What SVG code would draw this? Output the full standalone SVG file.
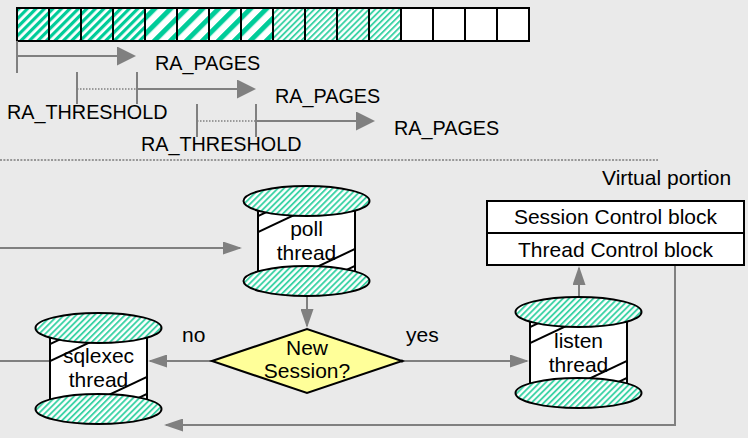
<svg xmlns="http://www.w3.org/2000/svg" width="748" height="438" viewBox="0 0 748 438">
<style>
.t{font-family:"Liberation Sans",Arial,sans-serif;font-size:21px;fill:#000}
.ra{font-size:19.8px}
.m{text-anchor:middle}
.g{stroke:#808080;stroke-width:2;fill:none}
.dot{stroke:#808080;stroke-width:1.5;stroke-dasharray:1.5 1.5;fill:none}
.cell{stroke:#000;stroke-width:2}
.k{stroke:#000;stroke-width:2}
.body{fill:#fff;stroke:#000;stroke-width:2}
.disk{fill:url(#p3);stroke:#000;stroke-width:2}
</style>
<defs>
<pattern id="p1" patternUnits="userSpaceOnUse" width="6" height="6" patternTransform="rotate(45)"><rect width="6" height="6" fill="#fff"/><rect width="3.2" height="6" fill="#00cc99"/></pattern>
<pattern id="p2" patternUnits="userSpaceOnUse" width="11.3" height="11.3" patternTransform="rotate(45)"><rect width="11.3" height="11.3" fill="#fff"/><rect width="5" height="11.3" fill="#00cc99"/></pattern>
<pattern id="p3" patternUnits="userSpaceOnUse" width="4.3" height="4.3" patternTransform="rotate(45)"><rect width="4.3" height="4.3" fill="#fff"/><rect width="1.9" height="4.3" fill="#3dd3a6"/></pattern>
<marker id="ra" markerUnits="userSpaceOnUse" markerWidth="19" markerHeight="19" refX="17" refY="9.5" orient="auto" viewBox="0 0 19 19"><path d="M0,0 L19,9.5 L0,19 z" fill="#808080"/></marker>
<marker id="ar" markerUnits="userSpaceOnUse" markerWidth="19" markerHeight="13" refX="17" refY="6.5" orient="auto" viewBox="0 0 19 13"><path d="M0,0 L19,6.5 L0,13 z" fill="#808080"/></marker>
<clipPath id="bodyclip"><rect x="-48.5" y="0" width="97" height="80"/></clipPath>
</defs>
<rect width="748" height="438" fill="#eaeaea"/>

<g id="pages">
<rect class="cell" x="17" y="8" width="32" height="33" fill="url(#p1)"/>
<rect class="cell" x="49" y="8" width="32" height="33" fill="url(#p1)"/>
<rect class="cell" x="81" y="8" width="32" height="33" fill="url(#p1)"/>
<rect class="cell" x="113" y="8" width="32" height="33" fill="url(#p1)"/>
<rect class="cell" x="145" y="8" width="32" height="33" fill="url(#p2)"/>
<rect class="cell" x="177" y="8" width="32" height="33" fill="url(#p2)"/>
<rect class="cell" x="209" y="8" width="32" height="33" fill="url(#p2)"/>
<rect class="cell" x="241" y="8" width="32" height="33" fill="url(#p2)"/>
<rect class="cell" x="273" y="8" width="32" height="33" fill="url(#p3)"/>
<rect class="cell" x="305" y="8" width="32" height="33" fill="url(#p3)"/>
<rect class="cell" x="337" y="8" width="32" height="33" fill="url(#p3)"/>
<rect class="cell" x="369" y="8" width="32" height="33" fill="url(#p3)"/>
<rect class="cell" x="401" y="8" width="32" height="33" fill="#fff"/>
<rect class="cell" x="433" y="8" width="32" height="33" fill="#fff"/>
<rect class="cell" x="465" y="8" width="32" height="33" fill="#fff"/>
<rect class="cell" x="497" y="8" width="32" height="33" fill="#fff"/>
</g>

<g id="readahead">
<line class="g" x1="17" y1="41" x2="17" y2="73"/>
<line class="g" x1="17" y1="56" x2="134" y2="56" marker-end="url(#ra)"/>
<text class="t ra" x="155" y="70">RA_PAGES</text>
<line class="g" x1="77" y1="72" x2="77" y2="104"/>
<line class="g" x1="137" y1="72" x2="137" y2="104"/>
<line class="dot" x1="77" y1="89" x2="137" y2="89"/>
<line class="g" x1="137" y1="89" x2="254" y2="89" marker-end="url(#ra)"/>
<text class="t ra" x="275" y="103">RA_PAGES</text>
<text class="t ra" x="7" y="118.5">RA_THRESHOLD</text>
<line class="g" x1="197" y1="104" x2="197" y2="137"/>
<line class="g" x1="256" y1="104" x2="256" y2="137"/>
<line class="dot" x1="197" y1="121" x2="256" y2="121"/>
<line class="g" x1="256" y1="121" x2="373" y2="121" marker-end="url(#ra)"/>
<text class="t ra" x="394" y="134.5">RA_PAGES</text>
<text class="t ra" x="141" y="150.5">RA_THRESHOLD</text>
</g>

<line x1="0" y1="160" x2="658" y2="160" stroke="#444" stroke-width="1" stroke-dasharray="2 1.4"/>
<text class="t" x="602" y="185">Virtual portion</text>

<g id="connectors">
<line class="g" x1="0" y1="248" x2="240" y2="248" marker-end="url(#ar)"/>
<line class="g" x1="307" y1="296" x2="307" y2="326" marker-end="url(#ar)"/>
<line class="g" x1="212" y1="361" x2="150" y2="361" marker-end="url(#ar)"/>
<line class="g" x1="0" y1="361" x2="50" y2="361"/>
<line class="g" x1="402" y1="361" x2="527" y2="361" marker-end="url(#ar)"/>
<circle cx="402" cy="361" r="1.5" fill="#000"/>
<line class="g" x1="579" y1="297" x2="579" y2="268" marker-end="url(#ar)"/>
<polyline class="g" points="675,265 675,425 166,425" marker-end="url(#ar)"/>
</g>

<g id="blocks">
<rect x="487" y="201" width="257" height="32" fill="#fff" class="k"/>
<rect x="487" y="233" width="257" height="32" fill="#fff" class="k"/>
<text class="t m" x="615.5" y="224">Session Control block</text>
<text class="t m" x="615.5" y="256.5">Thread Control block</text>
</g>

<g id="poll" transform="translate(306.5,201)">
<rect class="body" x="-48.5" y="0" width="97" height="80"/>
<g clip-path="url(#bodyclip)" class="k">
<line x1="-48.5" y1="15" x2="48.5" y2="-30.6"/>
<line x1="-48.5" y1="31" x2="48.5" y2="-14.6"/>
<line x1="-48.5" y1="93.6" x2="48.5" y2="48"/>
<line x1="-48.5" y1="110.6" x2="48.5" y2="65"/>
</g>
<ellipse class="disk" cx="0" cy="0" rx="63" ry="15"/>
<ellipse class="disk" cx="0" cy="80" rx="63" ry="15"/>
<text class="t m" x="0" y="35">poll</text>
<text class="t m" x="0" y="59">thread</text>
</g>

<g id="sqlexec" transform="translate(98.5,328)">
<rect class="body" x="-48.5" y="0" width="97" height="80"/>
<g clip-path="url(#bodyclip)" class="k">
<line x1="-48.5" y1="16" x2="48.5" y2="-29.6"/>
<line x1="-48.5" y1="33" x2="48.5" y2="-12.6"/>
<line x1="-48.5" y1="94.6" x2="48.5" y2="49"/>
<line x1="-48.5" y1="111.6" x2="48.5" y2="66"/>
</g>
<ellipse class="disk" cx="0" cy="0" rx="63" ry="15"/>
<ellipse class="disk" cx="0" cy="81" rx="63" ry="15"/>
<text class="t m" x="0" y="35">sqlexec</text>
<text class="t m" x="0" y="59">thread</text>
</g>

<g id="listen" transform="translate(578.5,312)">
<rect class="body" x="-48.5" y="0" width="97" height="80"/>
<g clip-path="url(#bodyclip)" class="k">
<line x1="-48.5" y1="15" x2="48.5" y2="-30.6"/>
<line x1="-48.5" y1="31" x2="48.5" y2="-14.6"/>
<line x1="-48.5" y1="94.6" x2="48.5" y2="49"/>
<line x1="-48.5" y1="111.6" x2="48.5" y2="66"/>
</g>
<ellipse class="disk" cx="0" cy="0" rx="63" ry="15"/>
<ellipse class="disk" cx="0" cy="81" rx="63" ry="15"/>
<text class="t m" x="0" y="36">listen</text>
<text class="t m" x="0" y="60">thread</text>
</g>

<g id="decision">
<polygon points="212,361 307,329 402,361 307,393" fill="#ffff99" class="k"/>
<text class="t m" x="307" y="355">New</text>
<text class="t m" x="307" y="378">Session?</text>
</g>
<text class="t" x="182" y="342">no</text>
<text class="t" x="406" y="342">yes</text>
</svg>
